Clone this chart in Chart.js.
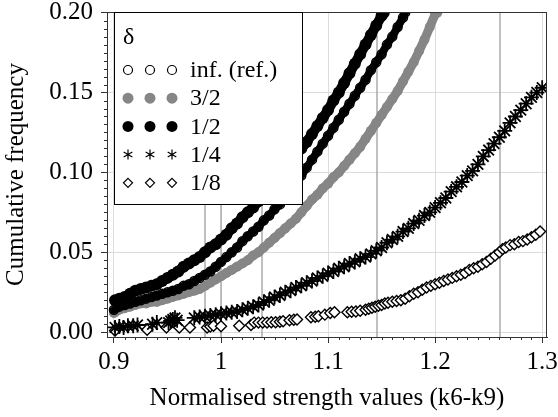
<!DOCTYPE html>
<html>
<head>
<meta charset="utf-8">
<script src="https://cdn.jsdelivr.net/npm/chart.js@4"></script>
<style>
  html, body { margin: 0; padding: 0; background: #fff; font-family: 'Liberation Serif', serif; }
  #fontprobe { position: absolute; left: -2000px; top: 0; font-family: 'Liberation Serif'; font-size: 25px; }
</style>
</head>
<body>
<span id="fontprobe">Cumulative frequency 0.15 δ inf. (ref.)</span>
<canvas id="cdf" width="558" height="417"></canvas>
<script>
// legend entries (delta)
const seriesLabels = ['inf. (ref.)', '3/2', '1/2', '1/4', '1/8'];

// tick labels
const xTicks = [0.9, 1.0, 1.1, 1.2, 1.3];
const xTickLabels = ['0.9', '1', '1.1', '1.2', '1.3'];
const yTicks = [0, 0.05, 0.10, 0.15, 0.20];
const yTickLabels = ['0.00', '0.05', '0.10', '0.15', '0.20'];

// darker vertical reference lines
const refLines = [0.985, 1.0, 1.038, 1.146, 1.261];

// inf. (ref.) - open circles
const infX = [0.900, 0.905, 0.910, 0.915, 0.920, 0.925, 0.930, 0.935, 0.940, 0.945, 0.950, 0.955, 0.960, 0.965, 0.970, 0.975, 0.980, 0.985, 0.990, 0.995,
              1.000, 1.005, 1.010, 1.015, 1.020, 1.025, 1.030, 1.035, 1.040, 1.045, 1.050, 1.055, 1.060, 1.065, 1.070, 1.075, 1.080, 1.085, 1.090, 1.095,
              1.100, 1.105, 1.110, 1.115, 1.120, 1.125, 1.130, 1.135, 1.140, 1.145, 1.150, 1.155, 1.160, 1.165, 1.170, 1.172];
const infY = [0.014, 0.016, 0.017, 0.018, 0.019, 0.020, 0.021, 0.022, 0.023, 0.024, 0.025, 0.026, 0.027, 0.029, 0.030, 0.032, 0.034, 0.036, 0.038, 0.041,
              0.044, 0.047, 0.050, 0.053, 0.057, 0.060, 0.063, 0.066, 0.070, 0.073, 0.077, 0.080, 0.084, 0.088, 0.093, 0.098, 0.103, 0.108, 0.113, 0.118,
              0.123, 0.128, 0.133, 0.138, 0.143, 0.148, 0.153, 0.158, 0.164, 0.169, 0.174, 0.180, 0.185, 0.191, 0.197, 0.200];

// 3/2 - grey dots
const d32X = [0.900, 0.905, 0.910, 0.915, 0.920, 0.925, 0.930, 0.935, 0.940, 0.945, 0.950, 0.955, 0.960, 0.965, 0.970, 0.975, 0.980, 0.985, 0.990, 0.995,
              1.000, 1.005, 1.010, 1.015, 1.020, 1.025, 1.030, 1.035, 1.040, 1.045, 1.050, 1.055, 1.060, 1.065, 1.070, 1.075, 1.080, 1.085, 1.090, 1.095,
              1.100, 1.105, 1.110, 1.115, 1.120, 1.125, 1.130, 1.135, 1.140, 1.145, 1.150, 1.155, 1.160, 1.165, 1.170, 1.175, 1.180, 1.185, 1.190, 1.195,
              1.200, 1.202];
const d32Y = [0.012, 0.014, 0.015, 0.016, 0.017, 0.018, 0.018, 0.019, 0.019, 0.020, 0.021, 0.022, 0.023, 0.024, 0.025, 0.026, 0.027, 0.029, 0.031, 0.033,
              0.035, 0.037, 0.039, 0.041, 0.043, 0.045, 0.048, 0.050, 0.053, 0.056, 0.059, 0.062, 0.065, 0.068, 0.071, 0.075, 0.079, 0.083, 0.086, 0.090,
              0.093, 0.097, 0.100, 0.104, 0.108, 0.112, 0.116, 0.121, 0.126, 0.131, 0.136, 0.141, 0.146, 0.151, 0.157, 0.163, 0.169, 0.176, 0.183, 0.191,
              0.199, 0.200];

// 1/2 - black dots
const d12X = [0.901, 0.905, 0.910, 0.915, 0.920, 0.925, 0.930, 0.935, 0.940, 0.945, 0.950, 0.955, 0.960, 0.965, 0.970, 0.975, 0.980, 0.985, 0.990, 0.995,
              1.000, 1.005, 1.010, 1.015, 1.020, 1.025, 1.030, 1.035, 1.040, 1.045, 1.050, 1.055, 1.060, 1.065, 1.070, 1.075, 1.080, 1.085, 1.090, 1.095,
              1.100, 1.105, 1.110, 1.115, 1.120, 1.125, 1.130, 1.135, 1.140, 1.145, 1.150, 1.152];
const d12Y = [0.020, 0.021, 0.022, 0.024, 0.026, 0.027, 0.028, 0.029, 0.030, 0.032, 0.034, 0.036, 0.038, 0.041, 0.043, 0.045, 0.047, 0.050, 0.053, 0.055,
              0.058, 0.061, 0.065, 0.068, 0.072, 0.075, 0.078, 0.082, 0.086, 0.090, 0.094, 0.098, 0.103, 0.107, 0.111, 0.115, 0.119, 0.124, 0.129, 0.134,
              0.139, 0.145, 0.150, 0.156, 0.162, 0.168, 0.174, 0.180, 0.186, 0.192, 0.198, 0.200];

// 1/4 - asterisks
const d14X = [0.901, 0.905, 0.909, 0.913, 0.918, 0.922, 0.936, 0.940, 0.951, 0.953, 0.955, 0.957, 0.959,
              0.975, 0.980, 0.985, 0.990, 0.995, 1.000, 1.005, 1.010, 1.015, 1.020, 1.025, 1.030, 1.035, 1.040, 1.045, 1.050, 1.055, 1.060, 1.065, 1.070,
              1.075, 1.080, 1.085, 1.090, 1.095, 1.100, 1.105, 1.110, 1.115, 1.120, 1.125, 1.130, 1.135, 1.140, 1.145, 1.150, 1.155, 1.160, 1.165, 1.170,
              1.175, 1.180, 1.185, 1.190, 1.195, 1.200, 1.205, 1.210, 1.215, 1.220, 1.225, 1.230, 1.235, 1.240, 1.245, 1.250, 1.255, 1.260, 1.265, 1.270,
              1.275, 1.280, 1.285, 1.290, 1.295, 1.300];
const d14Y = [0.003, 0.0035, 0.003, 0.004, 0.004, 0.0045, 0.005, 0.006, 0.006, 0.007, 0.008, 0.009, 0.0075,
              0.009, 0.0095, 0.010, 0.0105, 0.011, 0.0115, 0.012, 0.0125, 0.013, 0.014, 0.015, 0.016, 0.017, 0.019, 0.020, 0.022, 0.023, 0.025, 0.026, 0.028,
              0.029, 0.031, 0.032, 0.034, 0.035, 0.037, 0.038, 0.040, 0.041, 0.043, 0.044, 0.046, 0.047, 0.049, 0.051, 0.053, 0.056, 0.058, 0.060, 0.063,
              0.065, 0.068, 0.070, 0.073, 0.075, 0.078, 0.081, 0.084, 0.088, 0.091, 0.094, 0.098, 0.101, 0.105, 0.110, 0.114, 0.118, 0.122, 0.126, 0.131,
              0.135, 0.139, 0.143, 0.147, 0.150, 0.153];

// 1/8 - open diamonds
const d18X = [0.901, 0.931, 0.949, 0.961, 0.971, 0.987, 0.990, 0.993, 1.000, 1.017, 1.028, 1.031, 1.035, 1.039, 1.043, 1.047, 1.051, 1.055, 1.058,
              1.064, 1.068, 1.071, 1.084, 1.088, 1.091, 1.097, 1.102, 1.106, 1.118, 1.122, 1.126, 1.130, 1.135, 1.138, 1.141, 1.144, 1.147, 1.150,
              1.153, 1.156, 1.160, 1.164, 1.168, 1.172, 1.176, 1.180, 1.184, 1.188, 1.192, 1.196, 1.200, 1.204, 1.208, 1.212, 1.216, 1.220, 1.224,
              1.228, 1.232, 1.236, 1.240, 1.244, 1.248, 1.252, 1.256, 1.260, 1.263, 1.266, 1.270, 1.274, 1.278, 1.282, 1.286, 1.290, 1.294, 1.298];
const d18Y = [0.001, 0.0015, 0.003, 0.003, 0.003, 0.003, 0.0035, 0.004, 0.0037, 0.004, 0.0045, 0.006, 0.006, 0.006, 0.006, 0.0063, 0.0063, 0.0065, 0.0068,
              0.0075, 0.0078, 0.008, 0.0094, 0.0097, 0.010, 0.011, 0.012, 0.0125, 0.0125, 0.0128, 0.013, 0.0135, 0.014, 0.0147, 0.0153, 0.016, 0.0165, 0.017,
              0.018, 0.0185, 0.019, 0.0195, 0.020, 0.021, 0.0225, 0.024, 0.025, 0.0265, 0.028, 0.029, 0.030, 0.031, 0.032, 0.033, 0.034, 0.035, 0.036,
              0.037, 0.039, 0.040, 0.041, 0.0425, 0.044, 0.046, 0.048, 0.050, 0.052, 0.053, 0.0545, 0.055, 0.0565, 0.057, 0.058, 0.0595, 0.061, 0.063];

function pts(xs, ys) {
    return xs.map((x, i) => ({x: x, y: ys[i]}));
}

const serif = "'Liberation Serif'";
const frameColor = '#333';
const gridColor = '#dcdcdc';
const refColor = '#ababab';
const grey = '#868686';

// marker used in the legend box
function marker(ctx, style, cx, cy, r, fill, stroke, lw) {
    ctx.save();
    ctx.fillStyle = fill;
    ctx.strokeStyle = stroke;
    ctx.lineWidth = lw;
    ctx.beginPath();
    if (style === 'circle') {
        ctx.arc(cx, cy, r, 0, Math.PI * 2);
        ctx.fill();
        if (lw > 0) ctx.stroke();
    } else if (style === 'rectRot') {
        ctx.moveTo(cx, cy - r); ctx.lineTo(cx + r, cy); ctx.lineTo(cx, cy + r); ctx.lineTo(cx - r, cy); ctx.closePath();
        ctx.fill();
        ctx.stroke();
    } else {
        for (let k = 0; k < 3; k++) {
            const a = Math.PI / 2 + k * Math.PI / 3;
            ctx.moveTo(cx + r * Math.cos(a), cy - r * Math.sin(a));
            ctx.lineTo(cx - r * Math.cos(a), cy + r * Math.sin(a));
        }
        ctx.stroke();
    }
    ctx.restore();
}

const extras = {
    id: 'extras',
    beforeDatasetsDraw(chart) {
        const {ctx, chartArea: a, scales: {x}} = chart;
        ctx.save();
        ctx.strokeStyle = refColor;
        ctx.lineWidth = 1.5;
        refLines.forEach(v => {
            const px = Math.round(x.getPixelForValue(v));
            ctx.beginPath();
            ctx.moveTo(px, a.top);
            ctx.lineTo(px, a.bottom);
            ctx.stroke();
        });
        ctx.restore();
    },
    afterDraw(chart) {
        const {ctx, chartArea: a, scales: {x, y}} = chart;
        ctx.save();
        // top / right frame
        ctx.strokeStyle = frameColor;
        ctx.lineWidth = 1;
        ctx.beginPath();
        ctx.moveTo(a.left, Math.round(a.top) + 0.5);
        ctx.lineTo(a.right, Math.round(a.top) + 0.5);
        ctx.moveTo(Math.round(a.right) - 0.5, a.top);
        ctx.lineTo(Math.round(a.right) - 0.5, a.bottom);
        ctx.stroke();

        // minor ticks
        ctx.beginPath();
        for (let i = 90; i <= 130; i++) {
            if (i % 10 === 0) continue;
            const px = Math.round(x.getPixelForValue(i / 100)) + 0.5;
            ctx.moveTo(px, a.bottom);
            ctx.lineTo(px, a.bottom + 3);
        }
        for (let i = 0; i <= 40; i++) {
            if (i % 10 === 0) continue;
            const py = Math.round(y.getPixelForValue(i * 0.005)) + 0.5;
            ctx.moveTo(a.left - 3, py);
            ctx.lineTo(a.left, py);
        }
        ctx.stroke();

        // legend box
        const lx = 114.5, ly = 12.5, lw = 188, lh = 192;
        ctx.fillStyle = '#fff';
        ctx.fillRect(lx, ly, lw, lh);
        ctx.strokeStyle = '#000';
        ctx.strokeRect(lx, ly, lw, lh);
        ctx.fillStyle = '#000';
        ctx.font = '24px ' + serif;
        ctx.textBaseline = 'middle';
        ctx.textAlign = 'left';
        ctx.fillText('δ', 123, 38);
        const styles = [
            ['circle', 4.5, '#fff', '#000', 1.2],
            ['circle', 5.5, grey, grey, 0],
            ['circle', 5.5, '#000', '#000', 0],
            ['star', 5, '#000', '#000', 1.2],
            ['rectRot', 4.5, '#fff', '#000', 1.2]
        ];
        seriesLabels.forEach((lab, i) => {
            const cy = 70 + i * 28.2;
            const s = styles[i];
            [128, 150, 172].forEach(cx => marker(ctx, s[0], cx, cy, s[1], s[2], s[3], s[4]));
            ctx.fillStyle = '#000';
            ctx.fillText(lab, 190, cy + 1);
        });
        ctx.restore();
    }
};

function draw() {
    new Chart(document.getElementById('cdf'), {
        type: 'scatter',
        data: {
            datasets: [
                {
                    label: seriesLabels[2],
                    data: pts(d12X, d12Y),
                    showLine: true,
                    borderColor: '#000',
                    borderWidth: 10,
                    borderCapStyle: 'round',
                    borderJoinStyle: 'round',
                    pointStyle: 'circle',
                    pointRadius: 6,
                    pointBackgroundColor: '#000',
                    pointBorderWidth: 0,
                    order: 1
                },
                {
                    label: seriesLabels[0],
                    data: pts(infX, infY),
                    showLine: true,
                    borderColor: '#000',
                    borderWidth: 8,
                    borderCapStyle: 'round',
                    borderJoinStyle: 'round',
                    pointStyle: 'circle',
                    pointRadius: 4.5,
                    pointBackgroundColor: 'rgba(255,255,255,0)',
                    pointBorderColor: '#000',
                    pointBorderWidth: 1.5,
                    order: 2
                },
                {
                    label: seriesLabels[1],
                    data: pts(d32X, d32Y),
                    showLine: true,
                    borderColor: grey,
                    borderWidth: 9,
                    borderCapStyle: 'round',
                    borderJoinStyle: 'round',
                    pointStyle: 'circle',
                    pointRadius: 5,
                    pointBackgroundColor: grey,
                    pointBorderWidth: 0,
                    order: 3
                },
                {
                    label: seriesLabels[3],
                    data: pts(d14X, d14Y),
                    showLine: false,
                    pointStyle: 'star',
                    pointRadius: 7.5,
                    pointBorderColor: '#000',
                    pointBorderWidth: 1.8,
                    order: 4
                },
                {
                    label: seriesLabels[4],
                    data: pts(d18X, d18Y),
                    showLine: false,
                    pointStyle: 'rectRot',
                    pointRadius: 5.5,
                    pointBackgroundColor: '#fff',
                    pointBorderColor: '#000',
                    pointBorderWidth: 1.4,
                    order: 5
                }
            ]
        },
        options: {
            responsive: false,
            animation: false,
            events: [],
            layout: {
                padding: {top: 12, right: 11, left: 0, bottom: 0}
            },
            scales: {
                x: {
                    type: 'linear',
                    min: 0.8935,
                    max: 1.3045,
                    afterBuildTicks: s => { s.ticks = xTicks.map(v => ({value: v})); },
                    afterFit: s => { s.height = 80; s.paddingLeft = 0; s.paddingRight = 0; },
                    ticks: {
                        color: '#000',
                        font: {family: serif, size: 25},
                        padding: 4,
                        maxRotation: 0,
                        callback: (v, i) => xTickLabels[i]
                    },
                    grid: {
                        color: gridColor,
                        lineWidth: 1,
                        drawTicks: true,
                        tickLength: 6,
                        tickColor: frameColor
                    },
                    border: {display: true, color: frameColor, width: 1},
                    title: {
                        display: true,
                        text: 'Normalised strength values (k6-k9)',
                        color: '#000',
                        font: {family: serif, size: 25},
                        padding: {top: 0, bottom: 4}
                    }
                },
                y: {
                    type: 'linear',
                    min: -0.003,
                    max: 0.2004,
                    afterBuildTicks: s => { s.ticks = yTicks.map(v => ({value: v})); },
                    afterFit: s => { s.width = 107; s.paddingTop = 0; s.paddingBottom = 0; },
                    ticks: {
                        color: '#000',
                        font: {family: serif, size: 25},
                        padding: 8,
                        callback: (v, i) => yTickLabels[i]
                    },
                    grid: {
                        color: gridColor,
                        lineWidth: 1,
                        drawTicks: true,
                        tickLength: 6,
                        tickColor: frameColor
                    },
                    border: {display: true, color: frameColor, width: 1},
                    title: {
                        display: true,
                        text: 'Cumulative frequency',
                        color: '#000',
                        font: {family: serif, size: 25},
                        padding: {top: 1, bottom: 0}
                    }
                }
            },
            plugins: {
                legend: {display: false},
                tooltip: {enabled: false}
            }
        },
        plugins: [extras]
    });
}

document.body.offsetHeight;
document.fonts.ready.then(draw, draw);
</script>
</body>
</html>
